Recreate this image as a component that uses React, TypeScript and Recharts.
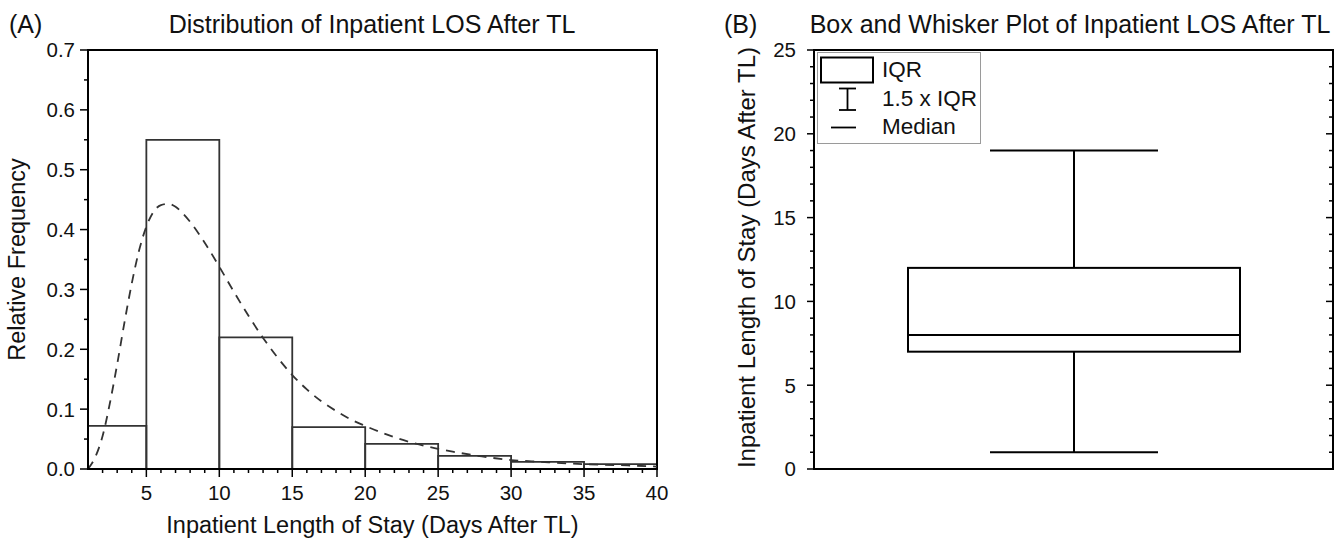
import React from 'react';
import { ComposedChart, Line, XAxis, YAxis, ReferenceArea, Bar, Label } from 'recharts';

// ---------- Panel A data ----------
const binStarts = [1, 5, 10, 15, 20, 25, 30, 35];
const binEnds = [5, 10, 15, 20, 25, 30, 35, 40];
const binFreq = [0.072, 0.55, 0.22, 0.07, 0.042, 0.022, 0.012, 0.008];

const curveX = [1, 1.5, 2, 2.5, 3, 3.5, 4, 4.5, 5, 5.5, 6, 6.5, 7, 7.5, 8, 9, 10, 11, 12, 13, 14, 15, 16, 17, 18, 19, 20, 22, 24, 26, 28, 30, 32, 35, 38, 40];
const curveY = [0, 0.02, 0.055, 0.11, 0.175, 0.245, 0.31, 0.365, 0.405, 0.43, 0.441, 0.443, 0.438, 0.427, 0.413, 0.378, 0.338, 0.296, 0.256, 0.219, 0.186, 0.157, 0.133, 0.113, 0.097, 0.083, 0.072, 0.053, 0.039, 0.029, 0.021, 0.015, 0.012, 0.008, 0.006, 0.004];

const xMajorA = [5, 10, 15, 20, 25, 30, 35, 40];
const xMinorA = [2, 3, 4, 6, 7, 8, 9, 11, 12, 13, 14, 16, 17, 18, 19, 21, 22, 23, 24, 26, 27, 28, 29, 31, 32, 33, 34, 36, 37, 38, 39];
const yMajorA = [0, 0.1, 0.2, 0.3, 0.4, 0.5, 0.6, 0.7];
const yMinorA = [0.05, 0.15, 0.25, 0.35, 0.45, 0.55, 0.65];
const yLabelsA = ['0.0', '0.1', '0.2', '0.3', '0.4', '0.5', '0.6', '0.7'];

// ---------- Panel B data ----------
const boxNames = ['LOS'];
const boxMin = [1];
const boxQ1 = [7];
const boxMedian = [8];
const boxQ3 = [12];
const boxMax = [19];
const yMajorB = [0, 5, 10, 15, 20, 25];
const yMinorB = [1, 2, 3, 4, 6, 7, 8, 9, 11, 12, 13, 14, 16, 17, 18, 19, 21, 22, 23, 24];
const yLabelsB = ['0', '5', '10', '15', '20', '25'];

const FONT = '"Liberation Sans", Arial, Helvetica, sans-serif';
const TICK_FS = 20.5;

const curveRows = curveX.map((x, i) => ({ x, y: curveY[i] }));
const boxRows = boxNames.map((name, i) => ({
  name,
  min: boxMin[i],
  q1: boxQ1[i],
  median: boxMedian[i],
  q3: boxQ3[i],
  max: boxMax[i],
}));

const isIn = (arr: number[], v: number) => arr.findIndex((m) => Math.abs(m - v) < 1e-9);

const LeftTick = (props: any) => {
  const { x, y, payload, majors, labels, majorLen, minorLen, gap } = props;
  const idx = isIn(majors, payload.value);
  const major = idx >= 0;
  return (
    <g>
      <line x1={x} x2={x - (major ? majorLen : minorLen)} y1={y} y2={y} stroke="#000" strokeWidth={1.5} />
      {major && (
        <text x={x - gap} y={y} dy="0.36em" textAnchor="end" fontSize={TICK_FS} fontFamily={FONT} fill="#111">
          {labels[idx]}
        </text>
      )}
    </g>
  );
};

const RightTick = (props: any) => {
  const { x, y, payload, majors } = props;
  const major = isIn(majors, payload.value) >= 0;
  return <line x1={x} x2={x - (major ? 7 : 4)} y1={y} y2={y} stroke="#000" strokeWidth={1.5} />;
};

const BottomTick = (props: any) => {
  const { x, y, payload } = props;
  const major = isIn(xMajorA, payload.value) >= 0;
  return (
    <g>
      <line x1={x} x2={x} y1={y} y2={y + (major ? 8 : 4)} stroke="#000" strokeWidth={1.5} />
      {major && (
        <text x={x} y={y + 31} textAnchor="middle" fontSize={TICK_FS} fontFamily={FONT} fill="#111">
          {String(payload.value)}
        </text>
      )}
    </g>
  );
};

const BoxShape = (props: any) => {
  const { x, y, width, height, index } = props;
  const d = props.payload && props.payload.q1 !== undefined ? props.payload : boxRows[index ?? 0];
  const top = Math.min(y, y + height);
  const h = Math.abs(height);
  const ppu = h / (d.max - d.min);
  const py = (v: number) => top + (d.max - v) * ppu;
  const cx = x + width / 2;
  const capW = width * 0.506;
  return (
    <g stroke="#000" strokeWidth={2} fill="none">
      <line x1={cx} x2={cx} y1={py(d.max)} y2={py(d.q3)} />
      <line x1={cx} x2={cx} y1={py(d.q1)} y2={py(d.min)} />
      <line x1={cx - capW / 2} x2={cx + capW / 2} y1={py(d.max)} y2={py(d.max)} />
      <line x1={cx - capW / 2} x2={cx + capW / 2} y1={py(d.min)} y2={py(d.min)} />
      <rect x={x} y={py(d.q3)} width={width} height={py(d.q1) - py(d.q3)} fill="#fff" />
      <line x1={x} x2={x + width} y1={py(d.median)} y2={py(d.median)} />
    </g>
  );
};

const RotLabel = (text: string, offsetX: number, fs: number, shiftY: number) => (p: any) => {
  const vb = p.viewBox || { x: 0, y: 0, width: 0, height: 0 };
  const cx = vb.x + offsetX;
  const cy = vb.y + vb.height / 2 + shiftY;
  return (
    <text
      transform={`translate(${cx}, ${cy}) rotate(-90)`}
      textAnchor="middle"
      dominantBaseline="central"
      fontSize={fs}
      fontFamily={FONT}
      fill="#111"
    >
      {text}
    </text>
  );
};

const titleStyle: React.CSSProperties = {
  position: 'absolute',
  fontFamily: FONT,
  fontSize: 25,
  lineHeight: '24px',
  color: '#111',
  whiteSpace: 'nowrap',
};

const legendText: React.CSSProperties = {
  position: 'absolute',
  left: 64,
  fontFamily: FONT,
  fontSize: 22.5,
  lineHeight: '24px',
  color: '#111',
  whiteSpace: 'nowrap',
};

export default function App() {
  return (
    <div style={{ position: 'absolute', left: 0, top: 0, width: 1344, height: 540, background: '#fff', overflow: 'hidden' }}>
      {/* Panel A */}
      <div style={{ position: 'absolute', left: 0, top: 0 }}>
        <ComposedChart width={680} height={540} data={curveRows} margin={{ top: 50, right: 23, left: 0, bottom: 0 }}>
          <XAxis
            dataKey="x"
            type="number"
            domain={[1, 40]}
            allowDataOverflow
            ticks={[...xMinorA, ...xMajorA].sort((a, b) => a - b)}
            interval={0}
            tickSize={0}
            tickMargin={0}
            tickLine={false}
            tick={(p: any) => <BottomTick {...p} />}
            axisLine={{ stroke: '#000', strokeWidth: 2 }}
            height={71}
          >
            <Label
              content={(p: any) => {
                const vb = p.viewBox || { x: 0, y: 0, width: 0, height: 0 };
                return (
                  <text x={vb.x + vb.width / 2} y={vb.y + 64} textAnchor="middle" fontSize={23.5} fontFamily={FONT} fill="#111">
                    Inpatient Length of Stay (Days After TL)
                  </text>
                );
              }}
            />
          </XAxis>
          <YAxis
            type="number"
            domain={[0, 0.7]}
            allowDataOverflow
            ticks={[...yMinorA, ...yMajorA].sort((a, b) => a - b)}
            interval={0}
            tickSize={0}
            tickMargin={0}
            tickLine={false}
            width={88}
            axisLine={{ stroke: '#000', strokeWidth: 2 }}
            tick={(p: any) => (
              <LeftTick {...p} majors={yMajorA} labels={yLabelsA} majorLen={8} minorLen={4} gap={13} />
            )}
          >
            <Label content={RotLabel('Relative Frequency', 17, 23.5, 0)} />
          </YAxis>
          {binStarts.map((s, i) => (
            <ReferenceArea
              key={'bin' + i}
              x1={s}
              x2={binEnds[i]}
              y1={0}
              y2={binFreq[i]}
              fill="none"
              fillOpacity={0}
              stroke="#333"
              strokeWidth={1.8}
            />
          ))}
          <ReferenceArea x1={1} x2={40} y1={0} y2={0.7} fill="none" fillOpacity={0} stroke="#000" strokeWidth={2} />
          <Line
            dataKey="y"
            type="monotone"
            stroke="#333"
            strokeWidth={1.8}
            strokeDasharray="9 7"
            dot={false}
            activeDot={false}
            isAnimationActive={false}
          />
        </ComposedChart>
      </div>
      <div style={{ ...titleStyle, left: 9, top: 12 }}>(A)</div>
      <div style={{ ...titleStyle, left: 372, top: 12, transform: 'translateX(-50%)' }}>
        Distribution of Inpatient LOS After TL
      </div>

      {/* Panel B */}
      <div style={{ position: 'absolute', left: 680, top: 0 }}>
        <ComposedChart width={664} height={540} data={boxRows} margin={{ top: 50, right: 10, left: 0, bottom: 0 }}>
          <XAxis
            dataKey="name"
            type="category"
            tick={false}
            tickLine={false}
            axisLine={{ stroke: '#000', strokeWidth: 2 }}
            height={71}
            padding={{ left: 0, right: 0 }}
          />
          <YAxis
            type="number"
            domain={[0, 25]}
            allowDataOverflow
            ticks={[...yMinorB, ...yMajorB].sort((a, b) => a - b)}
            interval={0}
            tickSize={0}
            tickMargin={0}
            tickLine={false}
            width={134}
            axisLine={{ stroke: '#000', strokeWidth: 2 }}
            tick={(p: any) => (
              <LeftTick {...p} majors={yMajorB} labels={yLabelsB} majorLen={7} minorLen={4} gap={18} />
            )}
          >
            <Label content={RotLabel('Inpatient Length of Stay (Days After TL)', 66, 24, -2)} />
          </YAxis>
          <YAxis
            yAxisId="r"
            orientation="right"
            type="number"
            domain={[0, 25]}
            allowDataOverflow
            ticks={[...yMinorB, ...yMajorB].sort((a, b) => a - b)}
            interval={0}
            tickSize={0}
            tickMargin={0}
            tickLine={false}
            width={1}
            axisLine={{ stroke: '#000', strokeWidth: 2 }}
            tick={(p: any) => <RightTick {...p} majors={yMajorB} />}
          />
          <ReferenceArea y1={0} y2={25} fill="none" fillOpacity={0} stroke="#000" strokeWidth={2} />
          <Bar
            dataKey={(d: any) => [d.min, d.max]}
            barSize={332}
            shape={(p: any) => <BoxShape {...p} />}
            isAnimationActive={false}
          />
        </ComposedChart>
      </div>
      <div style={{ ...titleStyle, left: 724, top: 12 }}>(B)</div>
      <div style={{ ...titleStyle, left: 1070, top: 12, transform: 'translateX(-50%)' }}>
        Box and Whisker Plot of Inpatient LOS After TL
      </div>

      {/* Legend for panel B */}
      <div
        style={{
          position: 'absolute',
          left: 817,
          top: 52,
          width: 164,
          height: 92,
          border: '1px solid #9a9a9a',
          background: '#fff',
          boxSizing: 'border-box',
        }}
      >
        <svg width={62} height={90} style={{ position: 'absolute', left: 0, top: 0 }}>
          <rect x={3} y={4.5} width={52} height={25} fill="none" stroke="#000" strokeWidth={2} />
          <line x1={29.5} x2={29.5} y1={35.5} y2={57} stroke="#000" strokeWidth={1.8} />
          <line x1={21} x2={38} y1={35.5} y2={35.5} stroke="#000" strokeWidth={1.8} />
          <line x1={21} x2={38} y1={57} y2={57} stroke="#000" strokeWidth={1.8} />
          <line x1={13} x2={38} y1={74.5} y2={74.5} stroke="#000" strokeWidth={1.8} />
        </svg>
        <div style={{ ...legendText, top: 5 }}>IQR</div>
        <div style={{ ...legendText, top: 34 }}>1.5 x IQR</div>
        <div style={{ ...legendText, top: 62 }}>Median</div>
      </div>
    </div>
  );
}
